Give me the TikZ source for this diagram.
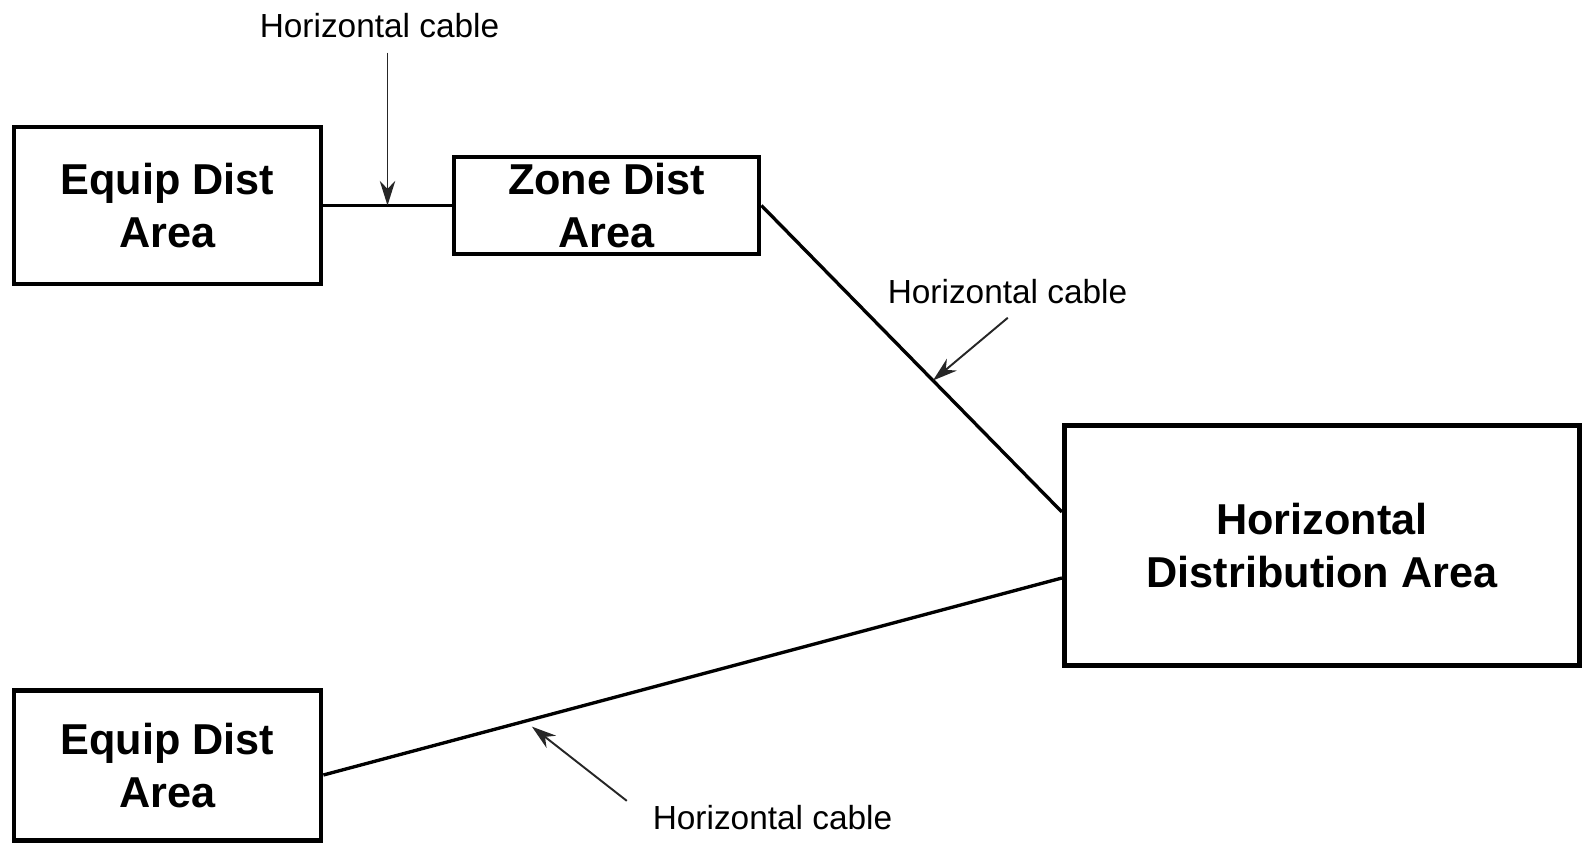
\documentclass[tikz,border=0pt]{standalone}
\usepackage{fontspec}
\setmainfont{Liberation Sans}
\usetikzlibrary{arrows.meta}
\tikzset{
>={Stealth[length=7pt,width=4.4pt]},
area/.style={draw,line width=1.35pt,align=center,inner sep=0pt,
  font=\bfseries\fontsize{12.3}{15.2}\selectfont},
cavo/.style={line width=0.95pt},
nota/.style={inner sep=3pt},
indicatore/.style={->,line width=0.55pt,draw=black!85,shorten <=1pt}}

\begin{document}
\begin{tikzpicture}[font=\fontsize{9.5}{11}\selectfont]

\useasboundingbox (0,0) rectangle (15.83,8.43);

      \node[area,minimum width=3.07cm,minimum height=1.57cm] (E1) at (1.675,6.375) {Equip Dist\\Area};
      \node[area,minimum width=3.05cm,minimum height=0.97cm] (Z) at (6.065,6.375) {Zone Dist\\Area};
      \node[area,minimum width=5.155cm,minimum height=2.40cm] (H) at (13.22,2.975) {Horizontal\\Distribution Area};
      \node[area,minimum width=3.07cm,minimum height=1.50cm] (E2) at (1.675,0.775) {Equip Dist\\Area};

      \node[nota] (n1) at (3.795,8.175) {Horizontal cable};
      \node[nota] (n2) at (10.075,5.51) {Horizontal cable};
      \node[nota] (n3) at (7.725,0.25) {Horizontal cable};

      % cables
      \draw[cavo] (E1.east) -- (Z.west) coordinate[pos=0.5] (t1);
      \draw[cavo] (Z.east) -- ([yshift=3.35mm]H.west) coordinate[pos=0.571] (t2);
      \draw[cavo] ([yshift=-0.95mm]E2.east) -- ([yshift=-3.25mm]H.west) coordinate[pos=0.273] (t3);

      % labels pointing at the cables
      \draw[indicatore] (n1.south -| t1) -- (t1);
      \draw[indicatore] ([xshift=0.3mm]n2.south) -- (t2);
      \draw[indicatore,shorten >=2.5pt] ([xshift=-1.2mm,yshift=1.5mm]n3.west) -- (t3);
\end{tikzpicture}
\end{document}
